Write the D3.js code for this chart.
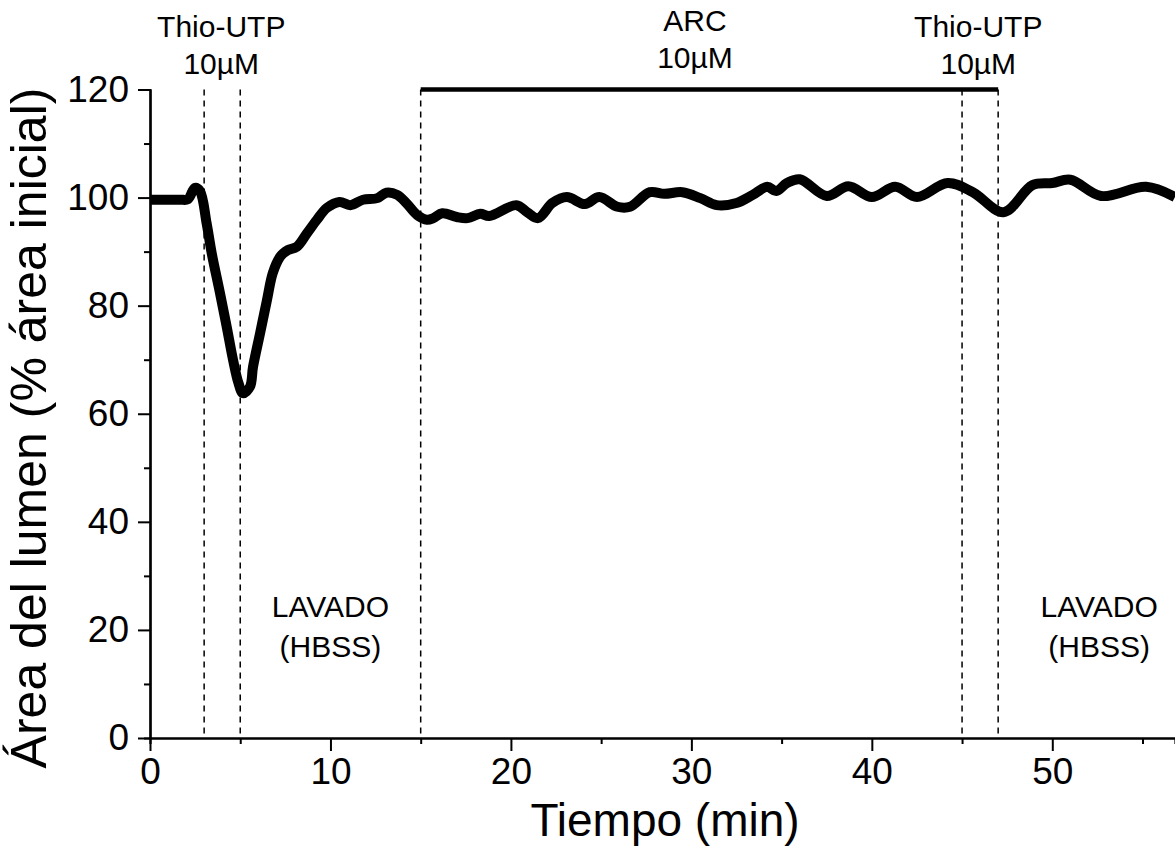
<!DOCTYPE html>
<html>
<head>
<meta charset="utf-8">
<script src="https://cdn.jsdelivr.net/npm/d3@7"></script>
<style>
  body { margin: 0; background: #fff; }
  svg text { font-family: "Liberation Sans", Arial, sans-serif; fill: #000; }
</style>
</head>
<body>
<div id="chart"></div>
<script>
// Lumen area trace (% of initial area)
const timeMin = [0, 1.66, 2.1, 2.49, 2.77, 3.14, 3.42, 3.88, 4.25, 4.6, 4.9, 5.15, 5.54, 5.71, 6.1, 6.48, 6.8, 7.2, 7.39, 7.65, 8.14, 8.7, 9.25, 9.8, 10.5, 11.1, 11.8, 12.6, 13.1, 13.7, 14.2, 14.8, 15.35, 15.7, 16.2, 17.0, 17.6, 18.3, 18.8, 20.3, 20.9, 21.5, 22.3, 23.1, 24.1, 24.9, 25.9, 26.6, 27.7, 28.5, 29.5, 30.5, 31.4, 32.5, 33.4, 34.2, 34.7, 35.3, 36.0, 37.5, 38.7, 40.0, 41.3, 42.5, 44.2, 45.6, 47.3, 48.9, 50.0, 51.0, 52.7, 55.2, 56.8];
const lumenArea = [99.6, 99.6, 99.7, 101.8, 101.2, 95.2, 89.7, 82.3, 76.1, 70.0, 65.7, 63.8, 65.0, 68.7, 74.9, 81.0, 86.0, 89.0, 89.7, 90.3, 90.9, 93.4, 95.9, 98.1, 99.2, 98.6, 99.6, 99.9, 100.9, 100.5, 99.0, 96.8, 95.9, 96.2, 97.1, 96.4, 96.2, 97.0, 96.6, 98.6, 97.3, 96.2, 99.0, 100.1, 98.8, 100.1, 98.3, 98.3, 101.0, 100.7, 101.0, 99.9, 98.6, 99.0, 100.5, 102.0, 101.2, 102.7, 103.4, 100.3, 102.1, 100.1, 102.0, 100.1, 102.7, 101.0, 97.3, 102.3, 102.7, 103.3, 100.3, 102.0, 100.1];

// Treatment markers (min)
const markerTimes = [3, 5, 15, 45, 47];
const arcStart = 15, arcEnd = 47, arcLevel = 120;

// Tick labels
const xMajor = [0, 10, 20, 30, 40, 50];
const xMinor = [5, 15, 25, 35, 45, 55];
const yMajor = [0, 20, 40, 60, 80, 100, 120];
const yMinor = [10, 30, 50, 70, 90, 110];

// Annotation texts
const annoLines = [
  ["Thio-UTP", "10µM"],
  ["ARC", "10µM"],
  ["Thio-UTP", "10µM"],
  ["LAVADO", "(HBSS)"],
  ["LAVADO", "(HBSS)"]
];
const annoAt = [3.95, 30.2, 45.9, 10, 52.6];

const width = 1175, height = 856;
const svg = d3.select("#chart").append("svg")
    .attr("width", width)
    .attr("height", height);

const x = d3.scaleLinear().domain([0, 56.8]).range([150, 1175]);
const y = d3.scaleLinear().domain([0, 120]).range([738, 89.5]);

// dashed marker lines
svg.selectAll("line.marker")
    .data(markerTimes)
    .enter().append("line")
    .attr("class", "marker")
    .attr("x1", d => x(d)).attr("x2", d => x(d))
    .attr("y1", y(arcLevel)).attr("y2", y(0))
    .attr("stroke", "#000")
    .attr("stroke-width", 1.5)
    .attr("stroke-dasharray", "6,5");

// ARC bar
svg.append("line")
    .attr("x1", x(arcStart)).attr("x2", x(arcEnd))
    .attr("y1", y(arcLevel)).attr("y2", y(arcLevel))
    .attr("stroke", "#000")
    .attr("stroke-width", 4.5);

// axes: minor ticks first, then major
function styleAxis(g) {
    g.select(".domain").attr("stroke-width", 2.2);
    g.selectAll(".tick line").attr("stroke-width", 2);
    g.selectAll(".tick text").style("font-size", "37px");
}

svg.append("g")
    .attr("transform", `translate(0,${y(0)})`)
    .call(d3.axisBottom(x).tickValues(xMinor).tickSize(6).tickFormat(""))
    .call(styleAxis);
svg.append("g")
    .attr("transform", `translate(0,${y(0)})`)
    .call(d3.axisBottom(x).tickValues(xMajor).tickSize(13).tickSizeOuter(0).tickPadding(7).tickFormat(d3.format("d")))
    .call(styleAxis);

svg.append("g")
    .attr("transform", `translate(${x(0)},0)`)
    .call(d3.axisLeft(y).tickValues(yMinor).tickSize(6).tickFormat(""))
    .call(styleAxis);
svg.append("g")
    .attr("transform", `translate(${x(0)},0)`)
    .call(d3.axisLeft(y).tickValues(yMajor).tickSize(12).tickSizeOuter(0).tickPadding(9).tickFormat(d3.format("d")))
    .call(styleAxis);

// trace
const points = timeMin.map((t, i) => [t, lumenArea[i]]);
svg.append("path")
    .datum(points)
    .attr("fill", "none")
    .attr("stroke", "#000")
    .attr("stroke-width", 10)
    .attr("stroke-linejoin", "round")
    .attr("d", d3.line()
        .x(d => x(d[0]))
        .y(d => y(d[1]))
        .curve(d3.curveCatmullRom.alpha(0.5)));

// annotations
const annoTop = [37, 31, 37, 617, 617];
const annoGap = [37, 37, 37, 40, 40];
annoLines.forEach((lines, i) => {
    lines.forEach((s, j) => {
        svg.append("text")
            .attr("x", x(annoAt[i]))
            .attr("y", annoTop[i] + j * annoGap[i])
            .attr("text-anchor", "middle")
            .style("font-size", "30px")
            .text(s);
    });
});

// axis titles
svg.append("text")
    .attr("x", 665)
    .attr("y", 836)
    .attr("text-anchor", "middle")
    .style("font-size", "46px")
    .text("Tiempo (min)");

svg.append("text")
    .attr("transform", `translate(46,428) rotate(-90)`)
    .attr("text-anchor", "middle")
    .style("font-size", "50px")
    .text("Área del lumen (% área inicial)");
</script>
</body>
</html>
